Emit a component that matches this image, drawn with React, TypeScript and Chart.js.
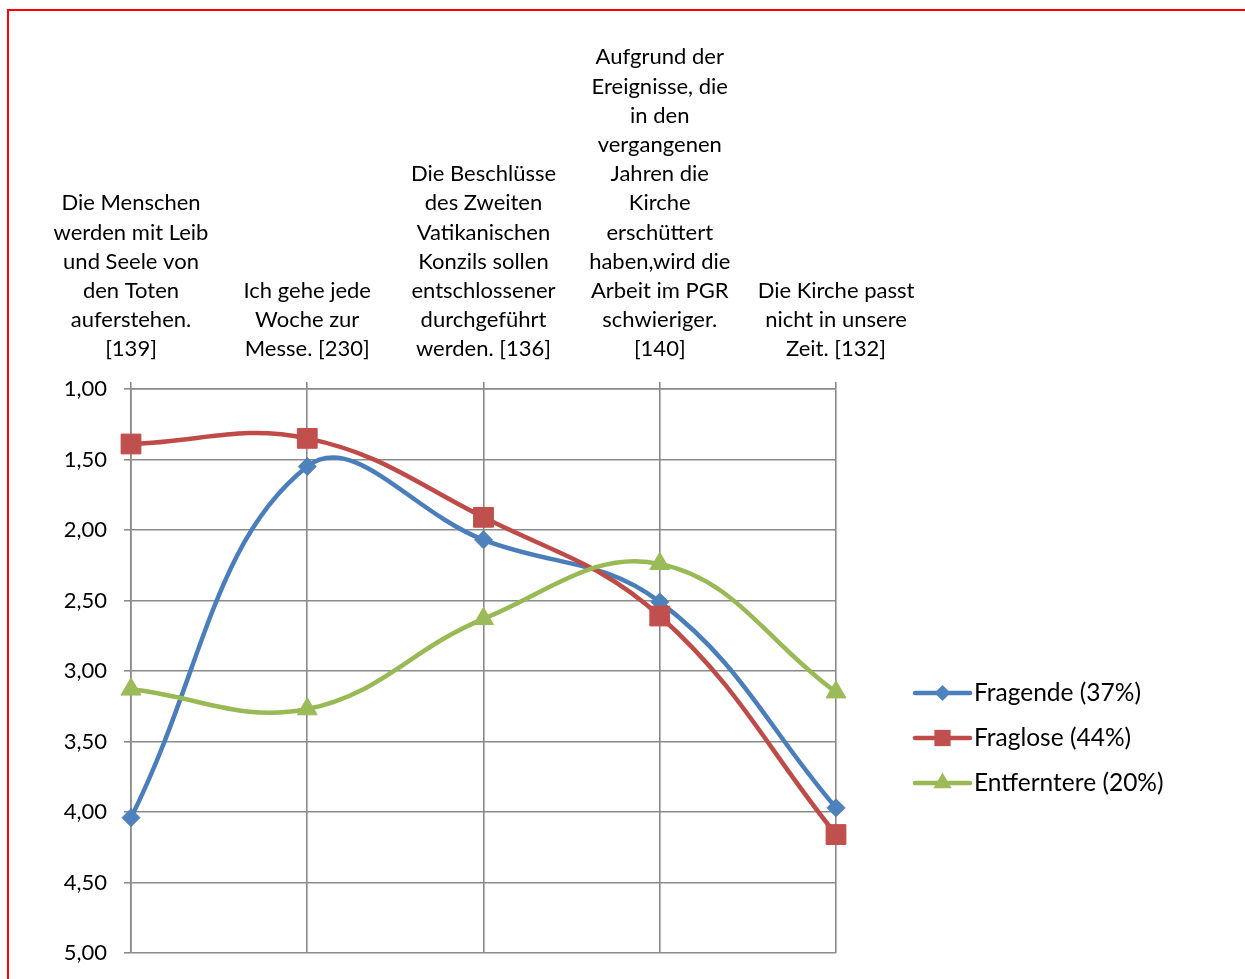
import React, { useEffect, useRef } from 'react';
import { Chart, registerables } from 'chart.js';

Chart.register(...registerables);

// Statements (multi-line category labels shown along the top axis)
const categories: string[][] = [
  ['Die Menschen', 'werden mit Leib', 'und Seele von', 'den Toten', 'auferstehen.', '[139]'],
  ['Ich gehe jede', 'Woche zur', 'Messe. [230]'],
  ['Die Beschlüsse', 'des Zweiten', 'Vatikanischen', 'Konzils sollen', 'entschlossener', 'durchgeführt', 'werden. [136]'],
  ['Aufgrund der', 'Ereignisse, die', 'in den', 'vergangenen', 'Jahren die', 'Kirche', 'erschüttert', 'haben,wird die', 'Arbeit im PGR', 'schwieriger.', '[140]'],
  ['Die Kirche passt', 'nicht in unsere', 'Zeit. [132]'],
];

// Mean agreement per group (1 = full agreement, 5 = none)
const fragende = [4.04, 1.55, 2.07, 2.51, 3.97];
const fraglose = [1.39, 1.35, 1.91, 2.61, 4.16];
const entferntere = [3.13, 3.27, 2.63, 2.24, 3.15];

const seriesNames = ['Fragende (37%)', 'Fraglose (44%)', 'Entferntere (20%)'];

const yMin = 1;
const yMax = 5;
const yStep = 0.5;

const FONT = 'Lato, "Open Sans", sans-serif';
const GRID = '#8a8a8a';

type Marker = 'rectRot' | 'rect' | 'triangle';

function drawMarker(ctx: CanvasRenderingContext2D, style: Marker, x: number, y: number, r: number, fill: string) {
  ctx.beginPath();
  if (style === 'rectRot') {
    ctx.moveTo(x, y - r);
    ctx.lineTo(x + r, y);
    ctx.lineTo(x, y + r);
    ctx.lineTo(x - r, y);
  } else if (style === 'rect') {
    const s = r * Math.SQRT1_2;
    ctx.rect(x - s, y - s, 2 * s, 2 * s);
  } else {
    const c = Math.cos(Math.PI / 6);
    ctx.moveTo(x, y - r);
    ctx.lineTo(x + r * c, y + r / 2);
    ctx.lineTo(x - r * c, y + r / 2);
  }
  ctx.closePath();
  ctx.fillStyle = fill;
  ctx.fill();
}

// Legend drawn as line + marker samples, placed to the right of the plot
const sideLegend = {
  id: 'sideLegend',
  afterDraw(chart: any) {
    const { ctx, chartArea } = chart;
    const x0 = chartArea.right + 79;
    const y0 = chartArea.top + 304;
    ctx.save();
    chart.data.datasets.forEach((ds: any, i: number) => {
      const y = y0 + 45 * i;
      ctx.strokeStyle = ds.borderColor;
      ctx.lineWidth = 4.5;
      ctx.lineCap = 'round';
      ctx.beginPath();
      ctx.moveTo(x0, y);
      ctx.lineTo(x0 + 55, y);
      ctx.stroke();
      const lr = ds.pointStyle === 'rectRot' ? 8 : ds.pointStyle === 'rect' ? 11.5 : 10.5;
      drawMarker(ctx, ds.pointStyle, x0 + 27.5, y, lr, ds.pointBackgroundColor);
      ctx.fillStyle = '#000';
      ctx.font = `24.5px ${FONT}`;
      ctx.textAlign = 'left';
      ctx.textBaseline = 'middle';
      ctx.fillText(ds.label, x0 + 59, y);
    });
    ctx.restore();
  },
};

export default function App() {
  const canvasRef = useRef<HTMLCanvasElement | null>(null);

  useEffect(() => {
    const canvas = canvasRef.current;
    if (!canvas) return;
    const mk = (label: string, data: number[], line: string, fill: string, style: Marker, radius: number, order: number) => ({
      label,
      data,
      borderColor: line,
      backgroundColor: fill,
      borderWidth: 4.5,
      tension: 0.4,
      pointStyle: style,
      pointRadius: radius,
      pointHoverRadius: radius,
      pointBackgroundColor: fill,
      pointBorderColor: fill,
      pointBorderWidth: 1,
      order,
    });
    const chart = new Chart(canvas, {
      type: 'line',
      data: {
        labels: categories,
        datasets: [
          mk(seriesNames[0], fragende, '#4A7EBB', '#4F81BD', 'rectRot', 9, 3),
          mk(seriesNames[1], fraglose, '#BE4B48', '#C0504D', 'rect', 14, 2),
          mk(seriesNames[2], entferntere, '#98B954', '#9BBB59', 'triangle', 11.5, 1),
        ],
      },
      options: {
        animation: false,
        responsive: false,
        maintainAspectRatio: false,
        layout: { padding: { left: 0, top: 0, right: 409, bottom: 26 } },
        plugins: {
          legend: { display: false },
          tooltip: { enabled: false },
        },
        scales: {
          x: {
            type: 'category',
            position: 'top',
            offset: false,
            grid: { color: GRID, lineWidth: 1.6, tickLength: 7, drawTicks: true },
            border: { color: GRID, width: 1.6 },
            ticks: {
              autoSkip: false,
              maxRotation: 0,
              minRotation: 0,
              padding: 18,
              color: '#000',
              font: { family: FONT, size: 22, lineHeight: '29.2px' },
            },
            afterFit(scale: any) {
              scale.height = 389;
            },
          },
          y: {
            type: 'linear',
            reverse: true,
            min: yMin,
            max: yMax,
            grid: { color: GRID, lineWidth: 1.6, tickLength: 7, drawTicks: true },
            border: { color: GRID, width: 1.6 },
            ticks: {
              stepSize: yStep,
              padding: 17,
              color: '#000',
              font: { family: FONT, size: 22 },
              callback: (v: any) => Number(v).toFixed(2).replace('.', ','),
            },
            afterFit(scale: any) {
              scale.width = 131;
              scale.paddingTop = 0;
              scale.paddingBottom = 0;
            },
          },
        },
      },
      plugins: [sideLegend],
    } as any);
    return () => chart.destroy();
  }, []);

  return (
    <div style={{ position: 'fixed', inset: 0, overflow: 'hidden', background: '#fff' }}>
      <div
        style={{
          position: 'absolute',
          left: 7,
          top: 9,
          width: 1400,
          height: 1200,
          border: '2px solid #ff0000',
          boxSizing: 'border-box',
        }}
      />
      <canvas
        ref={canvasRef}
        width={1245}
        height={979}
        style={{ position: 'absolute', left: 0, top: 0, width: 1245, height: 979 }}
      />
    </div>
  );
}
